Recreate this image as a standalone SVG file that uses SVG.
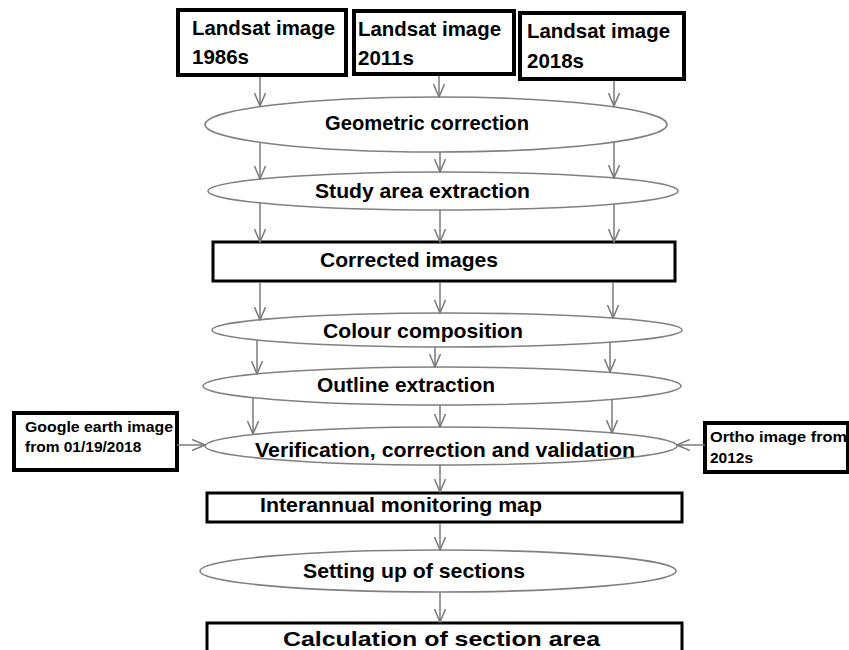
<svg xmlns="http://www.w3.org/2000/svg" width="849" height="650" viewBox="0 0 849 650">
<style>
.box{fill:#fff;stroke:#000;stroke-width:3}
.tbox{fill:#fff;stroke:#000;stroke-width:4}
.ell{fill:#fff;stroke:#808080;stroke-width:1.6}
.t{font-family:"Liberation Sans",Arial,sans-serif;font-weight:bold;font-size:20.5px;fill:#000}
.s{font-family:"Liberation Sans",Arial,sans-serif;font-weight:bold;font-size:15.5px;fill:#000}
.c line{stroke:#7a7a7a;stroke-width:1.5;marker-end:url(#ah)}
</style>
<defs>
<marker id="ah" viewBox="0 0 14 12" markerWidth="14" markerHeight="12" refX="13" refY="6" orient="auto" markerUnits="userSpaceOnUse">
<path d="M0,0.5 L13,6 L0,11.5" fill="none" stroke="#7a7a7a" stroke-width="1.5"/>
</marker>
</defs>
<rect width="849" height="650" fill="#fff"/>
<g id="landsat1986"><rect class="tbox" x="178" y="10" width="168" height="65"/><text class="t" x="192" y="35" textLength="143" lengthAdjust="spacingAndGlyphs">Landsat image</text><text class="t" x="192" y="64">1986s</text></g>
<g id="landsat2011"><rect class="tbox" x="354" y="11" width="160" height="63"/><text class="t" x="358" y="36" textLength="143" lengthAdjust="spacingAndGlyphs">Landsat image</text><text class="t" x="358" y="65">2011s</text></g>
<g id="landsat2018"><rect class="tbox" x="520" y="13" width="164" height="66"/><text class="t" x="527" y="38" textLength="143" lengthAdjust="spacingAndGlyphs">Landsat image</text><text class="t" x="527" y="68">2018s</text></g>
<g id="geometric"><ellipse class="ell" cx="436" cy="124.5" rx="231" ry="27.5"/><text class="t" x="325" y="130" textLength="204" lengthAdjust="spacingAndGlyphs">Geometric correction</text></g>
<g id="study"><ellipse class="ell" cx="443" cy="191" rx="235" ry="19"/><text class="t" x="315" y="198" textLength="215" lengthAdjust="spacingAndGlyphs">Study area extraction</text></g>
<g id="corrected"><rect class="box" x="213" y="242" width="462" height="39"/><text class="t" x="320" y="267" textLength="178" lengthAdjust="spacingAndGlyphs">Corrected images</text></g>
<g id="colour"><ellipse class="ell" cx="447" cy="330" rx="235" ry="17"/><text class="t" x="323" y="338" textLength="200" lengthAdjust="spacingAndGlyphs">Colour composition</text></g>
<g id="outline"><ellipse class="ell" cx="442" cy="386" rx="239" ry="19"/><text class="t" x="317" y="392" textLength="178" lengthAdjust="spacingAndGlyphs">Outline extraction</text></g>
<g id="verification"><ellipse class="ell" cx="441" cy="446" rx="236" ry="19"/><text class="t" x="255" y="457" textLength="380" lengthAdjust="spacingAndGlyphs">Verification, correction and validation</text></g>
<g id="google"><rect class="tbox" x="14" y="413" width="163" height="57"/><text class="s" x="25" y="432" textLength="148" lengthAdjust="spacingAndGlyphs">Google earth image</text><text class="s" x="25" y="452">from 01/19/2018</text></g>
<g id="ortho"><rect class="tbox" x="705" y="423" width="143" height="49"/><text class="s" x="710" y="442" textLength="137" lengthAdjust="spacingAndGlyphs">Ortho image from</text><text class="s" x="710" y="463">2012s</text></g>
<g id="interannual"><rect class="box" x="207" y="493" width="475" height="29"/><text class="t" x="260" y="512" textLength="282" lengthAdjust="spacingAndGlyphs">Interannual monitoring map</text></g>
<g id="setting"><ellipse class="ell" cx="438" cy="571" rx="238" ry="21"/><text class="t" x="303" y="578" textLength="222" lengthAdjust="spacingAndGlyphs">Setting up of sections</text></g>
<g id="calculation"><rect class="box" x="207" y="623" width="475" height="40"/><text class="t" x="283" y="646" textLength="317" lengthAdjust="spacingAndGlyphs">Calculation of section area</text></g>
<g id="connectors" class="c">
<line x1="260" y1="77" x2="260" y2="106"/>
<line x1="439" y1="76" x2="439" y2="97"/>
<line x1="614" y1="81" x2="614" y2="106"/>
<line x1="260" y1="143" x2="260" y2="179"/>
<line x1="440" y1="152" x2="440" y2="172"/>
<line x1="614" y1="143" x2="614" y2="178"/>
<line x1="260" y1="203" x2="260" y2="242"/>
<line x1="440" y1="210" x2="440" y2="242"/>
<line x1="614" y1="204" x2="614" y2="242"/>
<line x1="260" y1="283" x2="260" y2="320"/>
<line x1="440" y1="283" x2="440" y2="313"/>
<line x1="613" y1="283" x2="613" y2="318"/>
<line x1="257" y1="340" x2="257" y2="374"/>
<line x1="435" y1="347" x2="435" y2="367"/>
<line x1="610" y1="342" x2="610" y2="372"/>
<line x1="253" y1="398" x2="253" y2="434"/>
<line x1="440" y1="405" x2="440" y2="427"/>
<line x1="612" y1="399" x2="612" y2="433"/>
<line x1="177" y1="445" x2="205" y2="445"/>
<line x1="705" y1="445" x2="677" y2="445"/>
<line x1="440" y1="465" x2="440" y2="492"/>
<line x1="440" y1="523" x2="440" y2="550"/>
<line x1="440" y1="592" x2="440" y2="622"/>
</g>
</svg>
